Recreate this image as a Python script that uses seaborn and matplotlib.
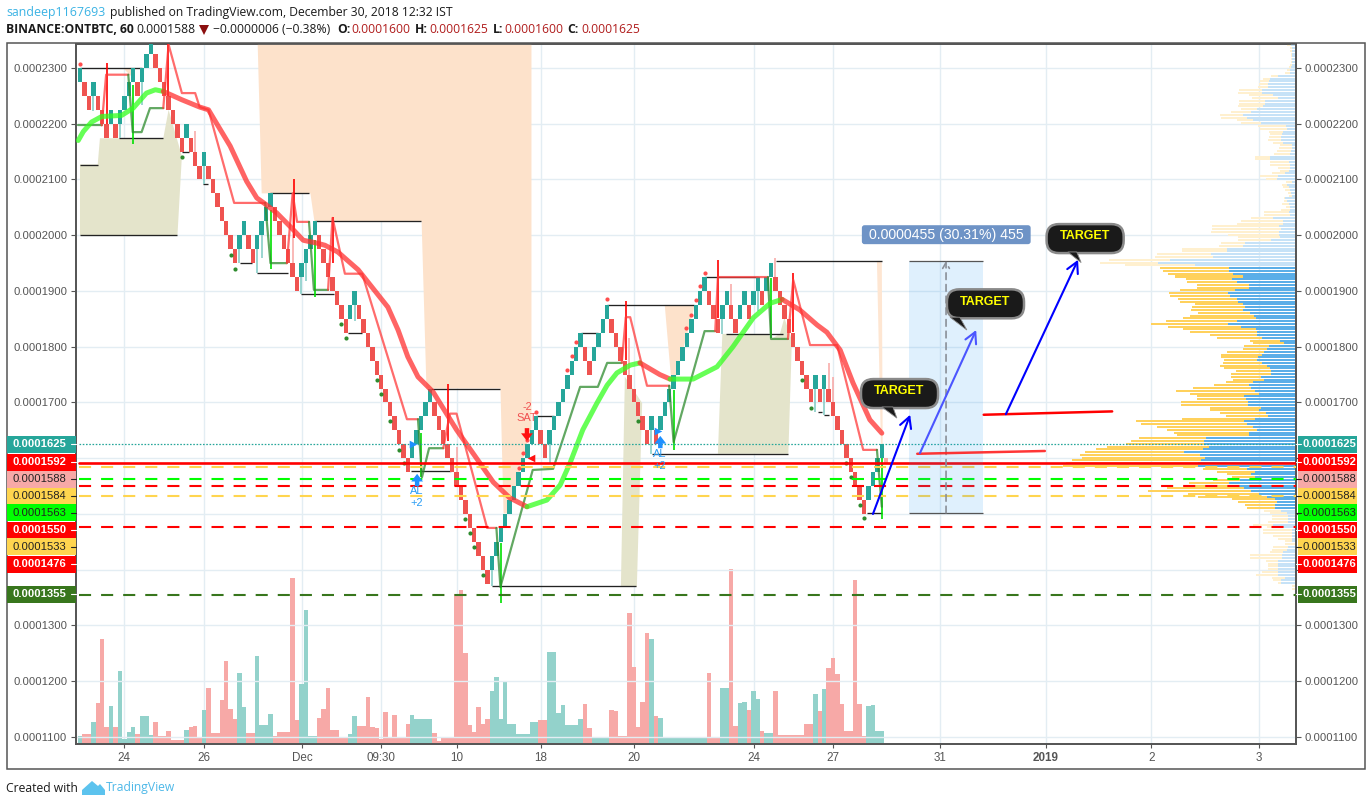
import numpy as np
import matplotlib
matplotlib.use("Agg")
import matplotlib.pyplot as plt
from matplotlib.patches import Rectangle, FancyBboxPatch, Polygon
from matplotlib.transforms import blended_transform_factory
import seaborn as sns

# ---------- DATA (prices in units of 1e-7 BTC, x in renko-brick index) ----------
brick_low = [2275,2250,2225,2250,2225,2200,2175,2200,2175,2200,
 2225,2250,2275,2250,2275,2300,2325,2300,2275,2250,
 2225,2200,2175,2150,2175,2150,2125,2100,2125,2100,
 2075,2050,2025,2000,1975,1950,1975,2000,1975,1950,
 1975,2000,2025,2050,2025,2000,1975,1950,1925,1900,
 1925,1950,1975,2000,1975,1950,1925,1900,1875,1850,
 1825,1850,1875,1850,1825,1800,1775,1750,1725,1700,
 1675,1650,1625,1600,1575,1600,1625,1650,1675,1700,
 1675,1650,1625,1600,1575,1550,1525,1500,1475,1450,
 1425,1400,1375,1400,1425,1450,1475,1500,1525,1550,
 1575,1600,1625,1650,1625,1600,1625,1650,1675,1700,
 1725,1750,1775,1800,1775,1750,1775,1800,1825,1850,
 1825,1800,1775,1750,1725,1700,1675,1650,1625,1650,
 1625,1650,1675,1700,1725,1750,1775,1800,1825,1850,
 1875,1900,1875,1850,1825,1850,1875,1850,1825,1850,
 1875,1850,1875,1900,1875,1900,1925,1900,1875,1850,
 1825,1800,1775,1750,1725,1700,1725,1700,1725,1700,
 1675,1650,1625,1600,1575,1550,1525,1500,1525,1550,
 1575,1600]
brick_up = [1,0,0,1,0,0,0,1,0,1, 1,1,1,0,1,1,1,0,0,0, 0,0,0,0,1,0,0,0,1,0,
 0,0,0,0,0,0,1,1,0,0, 1,1,1,1,0,0,0,0,0,0, 1,1,1,1,0,0,0,0,0,0,
 0,1,1,0,0,0,0,0,0,0, 0,0,0,0,0,1,1,1,1,1, 0,0,0,0,0,0,0,0,0,0,
 0,0,0,1,1,1,1,1,1,1, 1,1,1,1,0,0,1,1,1,1, 1,1,1,1,0,0,1,1,1,1,
 0,0,0,0,0,0,0,0,0,1, 0,1,1,1,1,1,1,1,1,1, 1,1,0,0,0,1,1,0,0,1,
 1,0,1,1,0,1,1,0,0,0, 0,0,0,0,0,0,1,0,1,0, 0,0,0,0,0,0,0,0,1,1, 1,1]
vol_h = [7,9,9,21,40,104,16,37,16,72, 4,11,16,9,27,27,8,21,7,7, 12,3,3,3,13,16,17,5,33,55,
 10,10,43,82,34,24,70,36,10,10, 87,18,18,29,7,11,11,11,165,23, 59,133,7,7,25,34,55,13,13,6,
 6,9,27,17,17,46,16,15,4,31, 6,28,6,6,19,28,24,24,24,24, 10,2,6,5,5,149,153,90,18,11,
 36,19,24,52,66,24,62,19,19,9, 9,9,21,21,23,23,91,91,30,38, 18,18,18,24,39,15,6,6,6,6,
 33,32,7,7,130,76,16,41,110,104, 27,25,6,6,6,6,6,6,6,6, 6,6,70,6,6,55,55,174,17,40,
 41,33,52,44,12,10,10,52,8,8, 8,8,8,8,19,19,49,32,54,75, 85,69,39,12,12,163,39,7,37,38, 12,12]
vol_up = [1,0,0,1,0,0,0,1,0,1, 1,1,1,0,1,1,1,0,0,0, 0,0,0,0,1,0,0,0,1,0,
 0,0,0,0,0,0,1,1,0,0, 1,1,1,1,0,0,0,0,0,0, 1,1,1,1,0,0,0,0,0,0,
 0,1,1,0,0,0,0,0,0,0, 0,0,0,0,0,1,1,1,1,1, 0,0,0,0,0,0,0,0,0,0,
 0,0,0,1,1,1,1,1,1,1, 1,1,1,1,0,0,1,1,1,1, 1,1,1,1,0,0,1,1,1,1,
 0,0,0,0,0,0,0,0,0,1, 0,1,1,1,1,1,1,1,1,1, 1,1,0,0,0,1,1,0,0,1,
 1,0,1,1,0,1,1,0,0,0, 0,0,0,0,0,0,1,0,1,0, 0,0,0,0,0,0,0,0,1,1, 1,1]

# thick moving average: (colour group, index, price)
ma_segments = [
 ("g",[-0.4,0.75,2.6,4.9,9.4,12,15,17,18.8],[2170,2186,2203,2213,2215,2228,2255,2261,2258]),
 ("r",[18.8,23,27,29,30.8,33.9,37.6,39.9,42,44.4,47.4,50.4,53.4,55.3,58.2,62.8,65.9,69.5,71.8,74,76.3,79.7,85,90.3,93.3,97,100.9],
      [2258,2243,2230,2225,2201,2160,2097,2067,2055,2040,2016,1991,1986,1982,1970,1938,1907,1871,1830,1782,1746,1719,1651,1591,1557,1529,1513]),
 ("g",[100.9,105.4,108.4,110.6,113.5,116.7,119,121.2,124.2,126.4],[1513,1525,1552,1591,1651,1699,1731,1753,1767,1771]),
 ("r",[126.4,130.9,133.2],[1771,1750,1742]),
 ("g",[133.2,138.4,143.8,147.4,152,155.8,158.5],[1742,1742,1764,1800,1852,1878,1885]),
 ("r",[158.5,162.5,166.4,168.6,171.6,174.5,178.3,181],[1885,1866,1839,1826,1794,1735,1669,1645]),
]
# thin stepped line
thin_segments = [
 ("g",[-0.4,4.9],[2197,2197]),
 ("r",[4.9,5.9,10.9],[2197,2288,2288]),
 ("g",[10.9,11.9,13.9,15.8,18.8],[2288,2185,2185,2228,2228]),
 ("r",[18.8,20,23,26,27,29,34.8,41.8],[2228,2342,2255,2255,2230,2225,2058,2058]),
 ("g",[41.8,43,46.7],[2058,1950,1950]),
 ("r",[46.7,48,49,51.7],[1950,2075,2024,2024]),
 ("g",[51.7,52.8,56],[2024,1902,1902]),
 ("r",[56,57,59.8,63.7,73.8,76.3],[1902,2031,1931,1931,1670,1670]),
 ("g",[76.3,77.2,78.8,82],[1670,1566,1618,1618]),
 ("r",[82,83.5,85,91.9,94],[1618,1680,1680,1475,1475]),
 ("g",[94,94.9,102.2,106.8,112.9,116.9,119,122.3],[1475,1369,1579,1581,1728,1728,1771,1771]),
 ("r",[122.3,123.2,124.2,128,133],[1771,1853,1853,1730,1730]),
 ("g",[133,134,141,143.4],[1730,1629,1828,1828]),
 ("r",[143.4,144,155.3],[1828,1925,1925]),
 ("g",[155.3,156,159.8],[1925,1814,1814]),
 ("r",[159.8,161,164.8,170.9,176.8,179.9],[1814,1920,1803,1803,1615,1615]),
 ("g",[179.9,181],[1615,1513]),
]
# pivots: start, end, price
pivot_start = [0,0,0,8.9,23,27.8,43,53,36.1,40,50,60.5,74.8,79,93,103,113,119,141,145.8,129.2,157.2,166.5,168,177.6]
pivot_end   = [14,4,22,18.8,24.7,29,51.8,76.9,38.9,47,57.3,63.6,83.7,94.7,125.6,107,117,138.6,153,158.6,159.9,181,167.5,169,181]
pivot_price = [2300,2126,2000,2175,2150,2092,2075,2025,1950,1932,1895,1825,1578,1725,1370,1675,1825,1875,1925,1823,1608,1954,1683,1678,1502]
# long wicks
red_wick_x  = [6.2,19.9,48.2,57.2,83.1,123.2,144,161]
red_wick_hi = [2309,2345,2100,2033,1733,1882,1956,1932]
red_wick_lo = [2200,2250,1995,1950,1631,1776,1852,1826]
lime_wick_x  = [12,43.1,53,77,95,134.1,156,181]
lime_wick_hi = [2270,2045,1991,1645,1448,1722,1924,1600]
lime_wick_lo = [2164,1939,1889,1566,1340,1615,1816,1491]
teal_wick_x  = [3,9,14,28,36,40,41,50,51,62,93,106,129,145,153,166,168]
teal_wick_hi = [2250,2200,2275,2125,1975,1975,2000,1925,1950,1875,1400,1625,1650,1850,1900,1725,1725]
teal_wick_lo = [2222,2175,2234,2092,1950,1932,1960,1895,1918,1846,1370,1590,1608,1823,1865,1683,1678]
pink_wick_x  = [26,48,85,124,147,151,157,169,170]
pink_wick_hi = [2187,2075,1621,1815,1912,1875,1960,1770,1745]
pink_wick_lo = [2150,1950,1570,1750,1875,1850,1925,1725,1700]
# signal dots
red_dot_x = [0,101,100,99.1,102.9,110,111,111.9,118.9,136.9,138,139,140,141]
red_dot_p = [2308,1633,1610,1582,1683,1758,1784,1809,1885,1833,1857,1884,1909,1933]
green_dot_x = [23,34,35,58.9,60,67,68,70,72,73.1,87,88,89,91,126,163,165,173,174,176,177]
green_dot_p = [2141,1965,1940,1841,1816,1740,1716,1666,1615,1592,1491,1466,1441,1391,1666,1740,1691,1592,1567,1516,1492]
# shaded zones
orange_x = [40,40.9,51.9,52.8,77,78.1,94.8,95.5,96.4,98.2,101.8]
orange_p = [2343,2076,2076,2026,2026,1726,1726,1502,1502,1548,1656]
orange2_x = [132,138.8,134.5,133.4]
orange2_p = [1875,1875,1746,1746]
orange3_x = [9.7,11.6,11.6]
orange3_p = [2300,2300,2285]
orange4_x = [179.9,181,181.2,180.8]
orange4_p = [1954,1954,1625,1625]
olive_a_x = [0,4,4.5,18.8,20,23,22,0]
olive_a_p = [2127,2127,2174,2174,2225,2142,2000,2000]
olive_b_x = [123,126.9,125.7,122.1]
olive_b_p = [1746,1699,1369,1369]
olive_c_x = [145,155.4,156,158,159,160.7,159.9,144]
olive_c_p = [1823,1823,1814,1823,1852,1812,1608,1608]
# price levels
level_price = [1584,1563,1550,1533,1476,1355]
level_color = ["#ffd54f","#00ff00","#ff0000","#ffd54f","#ff0000","#38761d"]
tag_text  = ["0.0001625","0.0001592","0.0001588","0.0001584","0.0001563","0.0001550","0.0001533","0.0001476","0.0001355"]
tag_fill  = ["#26a69a","#ff0000","#f7a9a7","#ffd54f","#00ff00","#ff0000","#ffd54f","#ff0000","#38761d"]
tag_ink   = ["white","white","#222222","#222222","#222222","white","#222222","white","white"]
tag_price = [1625,1593,1562,1532,1502,1471,1441,1410,1356]
# volume profile rows (blue length, total length), top row first
vp_blue = [4,3,3,3,3,3,3,3,4,5, 5,17,25,26,27,27,33,33,22,17, 30,30,32,38,44,52,48,42,34,9,
 8,12,13,14,14,12,3,3,4,5, 25,25,6,5,5,6,10,17,18,3, 8,6,5,4,3,10,8,6,5,5,
 6,5,22,12,12,16,14,16,16,15, 24,50,52,68,68,84,82,125,137,100,
 66,66,62,52,63,58,46,46,60,67, 65,58,57,52,50,52,45,41,39,58, 67,54,39,38,38,33,15,11,26,28,
 31,33,37,38,33,28,25,24,24,34, 31,42,46,44,40,36,51,49,47,47, 34,36,29,27,40,51,48,42,38,
 46,46,89,91,91,86,92,111,95,90, 94,97,97,48,40,44,40,55,66,60, 51,44,36,28,20,18,20,20,
 14,8,7,7,7,22,15,3,3,3, 3,3,0,7,8,12,13,13,17,17, 17,17,17,17,10,14,14,0,0]
vp_total = [8,5,5,4,4,4,4,5,6,8, 10,24,32,35,36,37,56,57,46,43, 56,56,57,54,64,75,74,58,54,37,
 35,26,25,26,27,22,15,16,18,21, 40,40,25,25,17,15,23,35,29,9, 13,12,10,7,6,11,11,13,9,14,
 31,31,44,54,58,83,83,84,67,57, 57,74,76,113,113,138,140,186,195,170,
 135,132,127,120,109,108,98,98,115,126, 125,117,115,100,103,104,97,105,112,129, 144,127,112,105,85,78,45,42,51,52,
 68,74,74,71,72,75,71,59,64,64, 62,69,81,102,119,105,98,98,114,114, 85,85,75,69,113,159,154,138,128,
 121,118,156,164,169,188,199,210,215,213, 223,229,232,92,78,68,63,82,106,103, 128,147,107,97,63,57,50,48,
 31,25,23,23,27,42,28,32,32,22, 17,10,10,22,23,25,45,45,29,27, 27,27,33,39,23,22,17,3,3]
y_ticks = [2300,2200,2100,2000,1900,1800,1700,1600,1500,1400,1300,1200,1100]
y_labels = ["0.0002300","0.0002200","0.0002100","0.0002000","0.0001900","0.0001800","0.0001700","","","","0.0001300","0.0001200","0.0001100"]
x_ticks = [9.93,28,50.1,67.9,85.1,104.1,125.1,152.1,170,194.1,218,241.8,266.1]
x_labels = ["24","26","Dec","09:30","10","18","20","24","27","31","2019","2","3"]

# ---------- FIGURE ----------
W, H = 1372, 806
sns.set_theme(style="white")
plt.rcParams["font.family"] = ["Liberation Sans", "DejaVu Sans"]
fig = plt.figure(figsize=(W/100, H/100), dpi=100, facecolor="white")
AX_L, AX_R, AX_T, AX_B = 75.5, 1296, 44, 744
rect = [AX_L/W, 1-AX_B/H, (AX_R-AX_L)/W, (AX_B-AX_T)/H]
ax = fig.add_axes(rect)
XLIM = (-1.016, 274.5)
YLIM = (1087.4, 2343.05)
INK = "#555555"
RED, TEAL = "#ef5350", "#26a69a"

ax_vol = ax.twinx()
ax_vp = ax.twiny()
ax.set_zorder(3); ax.patch.set_visible(False)
ax_vp.set_zorder(2); ax_vp.patch.set_visible(False)
ax_vol.set_zorder(1)

# grid sits behind everything, on the lowest axes
for t in x_ticks:
    ax_vol.axvline(t, color="#e3edf3", lw=1, zorder=0)
ax_vol.set_yticks([])
ax.set_ylim(*YLIM)
for t in y_ticks:
    ax_vp.axhline(t, color="#e3edf3", lw=1, zorder=0)

# volume profile
rows = 2341 - 5*np.arange(len(vp_blue))
value_area = (rows <= 1945) & (rows >= 1508)
ax_vp.barh(rows[value_area], np.array(vp_total)[value_area], height=3.6, color="#ffd15c", edgecolor="none", lw=0, zorder=2)
ax_vp.barh(rows[~value_area], np.array(vp_total)[~value_area], height=3.6, color="#fff0cf", edgecolor="none", lw=0, zorder=2)
ax_vp.barh(rows[value_area], np.array(vp_blue)[value_area], height=3.6, color="#5aaee8", edgecolor="none", lw=0, zorder=3)
ax_vp.barh(rows[~value_area], np.array(vp_blue)[~value_area], height=3.6, color="#c6e2f7", edgecolor="none", lw=0, zorder=3)
ax_vp.set_xlim(1219.5, -1)
ax_vp.xaxis.set_visible(False)

# volume
sns.barplot(x=np.arange(len(vol_h)), y=vol_h, hue=vol_up, palette={0:"#f7a9a7",1:"#93d2cb"},
            native_scale=True, dodge=False, width=1.0, saturation=1, legend=False, ax=ax_vol, zorder=3,
            edgecolor="none", linewidth=0)
ax_vol.set_ylim(-1, 699)
ax_vol.yaxis.set_visible(False)
ax_vol.xaxis.set_visible(False)
ax_vol.set_xlabel(""); ax_vol.set_ylabel("")

# zones
ax.fill_between(orange_x, orange_p, YLIM[1], color="#fde2cb", lw=0, zorder=1)
ax.fill(orange2_x, orange2_p, color="#fde2cb", lw=0, zorder=1)
ax.fill(orange3_x, orange3_p, color="#fde2cb", lw=0, zorder=1)
ax.fill(orange4_x, orange4_p, color="#fee6d2", lw=0, zorder=1)
for xs, ps in [(olive_a_x, olive_a_p), (olive_b_x, olive_b_p), (olive_c_x, olive_c_p)]:
    ax.fill(xs, ps, color="#e4e4cb", lw=0, zorder=1)

# pivots
ax.hlines(pivot_price, pivot_start, pivot_end, color="#222222", lw=0.95, zorder=2)

# wicks
ax.vlines(teal_wick_x, teal_wick_lo, teal_wick_hi, color="#7fcac4", lw=1.1, zorder=2.5)
ax.vlines(pink_wick_x, pink_wick_lo, pink_wick_hi, color="#f8a5a3", lw=1.1, zorder=2.5)

# renko bricks
bx = np.arange(len(brick_low))
bars = ax.bar(bx, 25, bottom=brick_low, width=1.0, color=[TEAL if u else RED for u in brick_up],
              edgecolor="none", lw=0, zorder=3)
ax.bar([182], 8, bottom=[1592], width=1.0, color="#f7a9a7", edgecolor="none", lw=0, zorder=3)

ax.vlines(red_wick_x, red_wick_lo, red_wick_hi, color="#ff0000", lw=1.2, zorder=3.5)
ax.vlines(lime_wick_x, lime_wick_lo, lime_wick_hi, color="#00e000", lw=1.2, zorder=3.5)

# thin line
for c, xs, ps in thin_segments:
    sns.lineplot(x=xs, y=ps, sort=False, estimator=None, ax=ax, legend=False,
                 color="#ff3b3b" if c=="r" else "#2e8b2e", alpha=0.75, lw=1.6, zorder=4)
# thick MA
for c, xs, ps in ma_segments:
    sns.lineplot(x=xs, y=ps, sort=False, estimator=None, ax=ax, legend=False,
                 color="#ff3030" if c=="r" else "#33ff1e", alpha=0.75, lw=3.6, zorder=4.2)

ax.scatter(red_dot_x, red_dot_p, s=9, color="#ff4d4d", lw=0, zorder=4.5)
ax.scatter(green_dot_x, green_dot_p, s=9, color="#2e8b2e", lw=0, zorder=4.5)

# levels
ax.axhline(1625, xmin=0.003, color=TEAL, lw=0.9, ls=(0,(1.3,1.3)), zorder=5)
ax.axhline(1592, xmin=0.003, color="#ff0000", lw=1.9, zorder=5.2)
for p, c in zip(level_price, level_color):
    ax.axhline(p, xmin=0.003, color=c, lw=1.5, ls=(0,(5.8,4.8)), zorder=5)

# signals
BLUE_SIG = "#1e90ff"
def sig_arrow(x, tail, tip, col):
    ax.annotate("", xy=(x, tip), xytext=(x, tail), zorder=6,
                arrowprops=dict(facecolor=col, edgecolor="none", width=3.2, headwidth=8.5, headlength=5.5, shrink=0))
sig_arrow(76.1, 1550, 1572, BLUE_SIG)
sig_arrow(131.0, 1618, 1640, BLUE_SIG)
sig_arrow(100.9, 1654, 1631, "#ff1010")
for x, p, t in [(76.1,1541,"AL"),(76.1,1520,"+2"),(130.9,1608,"AL"),(130.9,1586,"+2")]:
    ax.text(x, p, t, color="#2a9df4", fontsize=7.9, ha="center", va="center", zorder=6)
for x, p, t in [(100.9,1692,"-2"),(100.9,1672,"SAT")]:
    ax.text(x, p, t, color="#f05050", fontsize=7.9, ha="center", va="center", zorder=6)
ax.scatter([75.2,130.5],[1626,1649], marker=">", s=30, color=BLUE_SIG, lw=0, zorder=6)
ax.scatter([101.8],[1600], marker="<", s=30, color="#ff1010", lw=0, zorder=6)

# long position tool
ax.add_patch(Rectangle((187.1,1502), 16.7, 452, fc="#2196f3", alpha=0.14, lw=0, zorder=6))
ax.hlines([1954,1502], 187.1, 203.8, color="#555555", lw=0.9, zorder=6)
ax.annotate("", xy=(195.5,1954), xytext=(195.5,1502), zorder=6,
            arrowprops=dict(arrowstyle="->,head_length=0.35,head_width=0.2", color="#8a8f98", lw=1.2,
                            ls=(0,(4,3)), shrinkA=0, shrinkB=0))
ax.add_patch(FancyBboxPatch((176.5,1984), 38.1, 34, boxstyle="round,pad=0,rounding_size=0.6",
                            mutation_aspect=7.95, fc="#6e93c6", ec="none", zorder=7))
ax.text(195.6, 2001, "0.0000455 (30.31%) 455", color="white", fontsize=10.2,
        ha="center", va="center", zorder=8)

# drawings
ax.plot([204,233],[1678,1684], color="#ff0000", lw=1.8, zorder=7)
ax.plot([189,217.8],[1608,1613], color="#ff2020", lw=1.8, alpha=0.9, zorder=7)
for a, b, c in [((179,1500),(187.4,1678),"#0000ff"),((189.6,1609),(202.3,1830),"#4b55ff"),((209,1679),(225.3,1956),"#0000ff")]:
    ax.annotate("", xy=b, xytext=a, zorder=7,
                arrowprops=dict(arrowstyle="->,head_length=0.65,head_width=0.35", color=c, lw=1.5, shrinkA=0, shrinkB=0))

call_x = [176.3,195.7,218.2]
call_p = [1690,1851,1968]
tail_x = [[181,183.5,184.4],[196.4,198.6,200.2],[223.0,225,226]]
tail_p = [[1692,1692,1672],[1853,1853,1830],[1970,1970,1951]]
for cx, cp, tx, tp in zip(call_x, call_p, tail_x, tail_p):
    ax.add_patch(FancyBboxPatch((cx,cp), 17.4, 52, boxstyle="round,pad=0,rounding_size=2.8", mutation_aspect=7.95,
                                fc="#1a1a1a", ec="#8a8a8a", lw=1.8, zorder=8))
    ax.fill(tx, tp, color="#1a1a1a", zorder=8, ec="#8a8a8a", lw=0.6)
    ax.text(cx+8.7, cp+30, "TARGET", color="#ffff00", fontsize=9, fontweight="bold", ha="center", va="center", zorder=9)

# axes
ax.set_xlim(*XLIM); ax.set_ylim(*YLIM)
ax.set_yticks(y_ticks); ax.set_yticklabels(y_labels)
ax.set_xticks(x_ticks); ax.set_xticklabels(x_labels)
ax.tick_params(axis="y", left=True, right=True, labelleft=True, labelright=True, length=3.5, width=0.8,
               color=INK, labelcolor=INK, labelsize=8.1, pad=2.5)
ax.tick_params(axis="x", bottom=True, length=3, width=0.8, color=INK, labelcolor=INK, labelsize=8.4, pad=2.5)
for lab in ax.get_xticklabels():
    if lab.get_text() == "2019":
        lab.set_fontweight("bold")
for a in (ax, ax_vol, ax_vp):
    for s in a.spines.values():
        s.set_color(INK); s.set_linewidth(1.1)

# price tags on both sides
trans = blended_transform_factory(ax.transAxes, ax.transData)
span = AX_R - AX_L
tag_h = 17 / (700/(YLIM[1]-YLIM[0]))
tag_boxes = [((7-AX_L)/span, 68.5/span, -2.0/span), ((1297.5-AX_L)/span, 59/span, 2.5/span)]
for txt, fc, ink, p in zip(tag_text, tag_fill, tag_ink, tag_price):
    for lx, wd, nudge in tag_boxes:
        ax.add_patch(Rectangle((lx, p-tag_h/2), wd, tag_h, transform=trans, fc=fc, ec="none", clip_on=False, zorder=10))
        ax.text(lx+wd/2+nudge, p, txt, transform=trans, color=ink, fontsize=8.1,
                fontweight="bold" if ink == "white" else "normal",
                ha="center", va="center", clip_on=False, zorder=11)
    for a0, a1 in [(-4.5/span, 0), (1, 1+4.5/span)]:
        ax.plot([a0, a1], [p, p], transform=trans, color=ink, lw=0.8, clip_on=False, zorder=11)

# outer frame, header, footer
fig.add_artist(Rectangle((7/W, 1-769/H), (1365-7)/W, (769-43)/H, transform=fig.transFigure, fc="none", ec=INK, lw=1.1))
HF = "Open Sans"
def ftxt(x, y, s, **kw):
    kw.setdefault("family", HF); kw.setdefault("fontsize", 8.75); kw.setdefault("va", "center"); kw.setdefault("color", "#1a1a1a")
    return fig.text(x/W, 1-y/H, s, **kw)
ftxt(6, 12.5, "sandeep1167693", color="#3bb3e4", fontsize=8.9)
ftxt(110, 12.5, "published on TradingView.com, December 30, 2018 12:32 IST")
ftxt(6, 29.5, "BINANCE:ONTBTC, 60", fontweight="bold")
ftxt(136, 29.5, "0.0001588")
fig.add_artist(Polygon([(199/W,1-25/H),(209/W,1-25/H),(204/W,1-35/H)], transform=fig.transFigure, fc="#8b0f0f", ec="none"))
ftxt(213, 29.5, "\u22120.0000006 (\u22120.38%)")
for x, s in [(337,"O:"),(415,"H:"),(493,"L:"),(567,"C:")]:
    ftxt(x, 29.5, s, fontweight="bold")
for x, s in [(351,"0.0001600"),(429,"0.0001625"),(504,"0.0001600"),(581,"0.0001625")]:
    ftxt(x, 29.5, s, color="#b01c1c")
ftxt(6, 788, "Created with")
ftxt(106, 788, "TradingView", color="#4db8e8")
logo = [(82,795),(82,790),(92,781),(98,786),(100,784),(105,790),(105,795)]
fig.add_artist(Polygon([(x/W, 1-y/H) for x, y in logo], transform=fig.transFigure, fc="#5cc3ee", ec="none"))

fig.savefig("out.png", dpi=100, facecolor="white")
